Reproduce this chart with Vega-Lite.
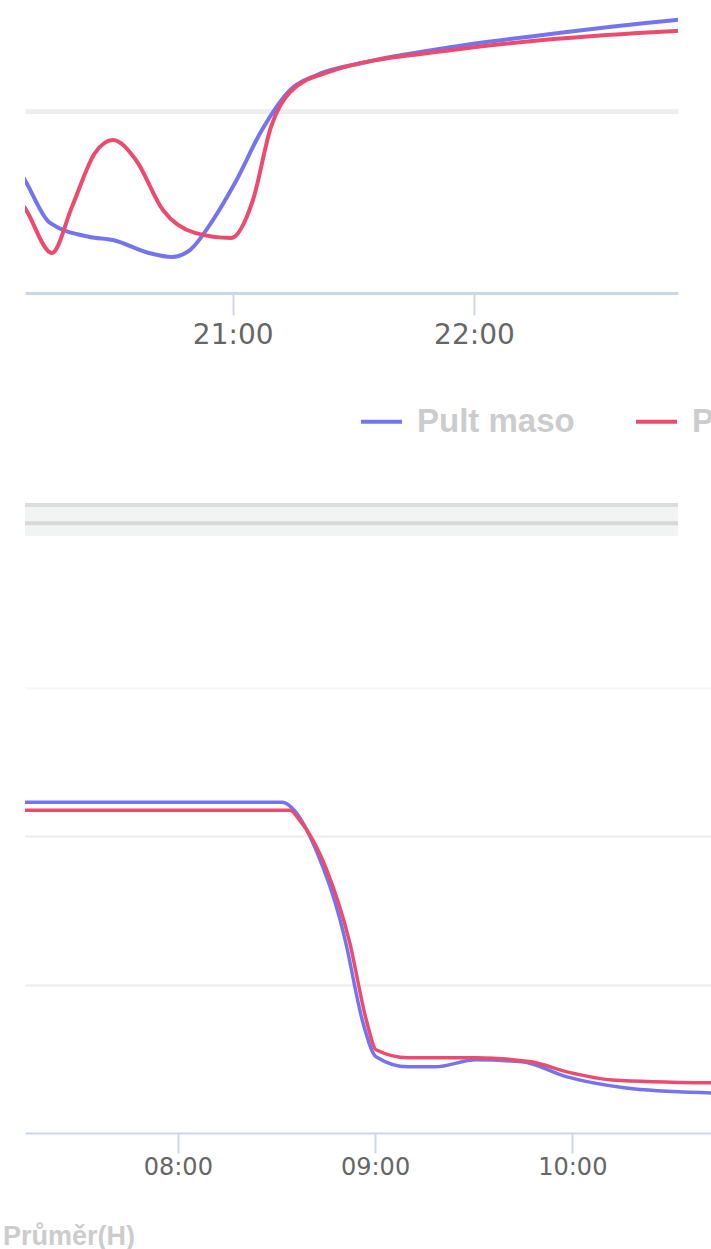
{
  "$schema": "https://vega.github.io/schema/vega-lite/v6.json",
  "padding": {"left": 3, "top": 0, "right": 0, "bottom": 0},
  "background": "white",
  "config": {"view": {"stroke": null}},
  "datasets": {
    "top": [
      {"time": "2019-03-18T20:00:00", "series": "Pult maso", "value": 9.2},
      {"time": "2019-03-18T20:08:20", "series": "Pult maso", "value": 6.21},
      {"time": "2019-03-18T20:14:34", "series": "Pult maso", "value": 3.85},
      {"time": "2019-03-18T20:24:30", "series": "Pult maso", "value": 3.08},
      {"time": "2019-03-18T20:30:14", "series": "Pult maso", "value": 2.91},
      {"time": "2019-03-18T20:39:11", "series": "Pult maso", "value": 2.2},
      {"time": "2019-03-18T20:44:54", "series": "Pult maso", "value": 1.98},
      {"time": "2019-03-18T20:49:22", "series": "Pult maso", "value": 2.36},
      {"time": "2019-03-18T20:55:06", "series": "Pult maso", "value": 4.01},
      {"time": "2019-03-18T21:00:34", "series": "Pult maso", "value": 6.04},
      {"time": "2019-03-18T21:07:17", "series": "Pult maso", "value": 8.96},
      {"time": "2019-03-18T21:14:15", "series": "Pult maso", "value": 11.15},
      {"time": "2019-03-18T21:20:58", "series": "Pult maso", "value": 11.98},
      {"time": "2019-03-18T21:32:09", "series": "Pult maso", "value": 12.64},
      {"time": "2019-03-18T21:54:32", "series": "Pult maso", "value": 13.52},
      {"time": "2019-03-18T22:17:10", "series": "Pult maso", "value": 14.18},
      {"time": "2019-03-18T22:50:15", "series": "Pult maso", "value": 15.0},
      {"time": "2019-03-18T23:00:00", "series": "Pult maso", "value": 15.2},
      {"time": "2019-03-18T20:00:00", "series": "Průměr(H)", "value": 6.6},
      {"time": "2019-03-18T20:08:20", "series": "Průměr(H)", "value": 4.67},
      {"time": "2019-03-18T20:15:04", "series": "Průměr(H)", "value": 2.2},
      {"time": "2019-03-18T20:20:02", "series": "Průměr(H)", "value": 4.73},
      {"time": "2019-03-18T20:25:45", "series": "Průměr(H)", "value": 7.69},
      {"time": "2019-03-18T20:30:14", "series": "Průměr(H)", "value": 8.41},
      {"time": "2019-03-18T20:35:57", "series": "Průměr(H)", "value": 7.31},
      {"time": "2019-03-18T20:42:40", "series": "Průměr(H)", "value": 4.56},
      {"time": "2019-03-18T20:50:37", "series": "Průměr(H)", "value": 3.3},
      {"time": "2019-03-18T20:59:35", "series": "Průměr(H)", "value": 3.02},
      {"time": "2019-03-18T21:05:03", "series": "Průměr(H)", "value": 5.11},
      {"time": "2019-03-18T21:09:31", "series": "Průměr(H)", "value": 9.12},
      {"time": "2019-03-18T21:14:15", "series": "Průměr(H)", "value": 11.04},
      {"time": "2019-03-18T21:23:12", "series": "Průměr(H)", "value": 12.09},
      {"time": "2019-03-18T21:54:32", "series": "Průměr(H)", "value": 13.35},
      {"time": "2019-03-18T22:17:10", "series": "Průměr(H)", "value": 13.9},
      {"time": "2019-03-18T22:50:15", "series": "Průměr(H)", "value": 14.4},
      {"time": "2019-03-18T23:00:00", "series": "Průměr(H)", "value": 14.5}
    ],
    "bottom": [
      {"time": "2019-03-19T07:00:00", "series": "Pult maso", "value": 22.35},
      {"time": "2019-03-19T07:15:00", "series": "Pult maso", "value": 22.3},
      {"time": "2019-03-19T08:31:42", "series": "Pult maso", "value": 22.3},
      {"time": "2019-03-19T08:35:39", "series": "Pult maso", "value": 21.7},
      {"time": "2019-03-19T08:42:20", "series": "Pult maso", "value": 18.92},
      {"time": "2019-03-19T08:49:20", "series": "Pult maso", "value": 14.39},
      {"time": "2019-03-19T08:50:52", "series": "Pult maso", "value": 13.04},
      {"time": "2019-03-19T08:56:20", "series": "Pult maso", "value": 7.43},
      {"time": "2019-03-19T09:00:17", "series": "Pult maso", "value": 5.14},
      {"time": "2019-03-19T09:10:00", "series": "Pult maso", "value": 4.46},
      {"time": "2019-03-19T09:18:12", "series": "Pult maso", "value": 4.46},
      {"time": "2019-03-19T09:30:42", "series": "Pult maso", "value": 4.93},
      {"time": "2019-03-19T09:44:42", "series": "Pult maso", "value": 4.8},
      {"time": "2019-03-19T09:58:23", "series": "Pult maso", "value": 3.78},
      {"time": "2019-03-19T10:16:20", "series": "Pult maso", "value": 3.04},
      {"time": "2019-03-19T10:42:11", "series": "Pult maso", "value": 2.7},
      {"time": "2019-03-19T10:50:00", "series": "Pult maso", "value": 2.65},
      {"time": "2019-03-19T07:00:00", "series": "Průměr(H)", "value": 21.76},
      {"time": "2019-03-19T08:34:06", "series": "Průměr(H)", "value": 21.76},
      {"time": "2019-03-19T08:36:52", "series": "Průměr(H)", "value": 21.15},
      {"time": "2019-03-19T08:45:14", "series": "Průměr(H)", "value": 17.77},
      {"time": "2019-03-19T08:52:04", "series": "Průměr(H)", "value": 13.04},
      {"time": "2019-03-19T08:57:33", "series": "Průměr(H)", "value": 7.43},
      {"time": "2019-03-19T09:00:17", "series": "Průměr(H)", "value": 5.61},
      {"time": "2019-03-19T09:10:00", "series": "Průměr(H)", "value": 5.07},
      {"time": "2019-03-19T09:30:42", "series": "Průměr(H)", "value": 5.07},
      {"time": "2019-03-19T09:47:26", "series": "Průměr(H)", "value": 4.8},
      {"time": "2019-03-19T09:58:23", "series": "Průměr(H)", "value": 4.12},
      {"time": "2019-03-19T10:12:05", "series": "Průměr(H)", "value": 3.58},
      {"time": "2019-03-19T10:42:11", "series": "Průměr(H)", "value": 3.38},
      {"time": "2019-03-19T10:50:00", "series": "Průměr(H)", "value": 3.36}
    ]
  },
  "spacing": 152,
  "resolve": {
    "scale": {"x": "independent", "y": "independent", "color": "independent"},
    "axis": {"x": "independent", "y": "independent"},
    "legend": {"color": "independent"}
  },
  "vconcat": [
    {
      "spacing": 63,
      "resolve": {
        "scale": {"x": "independent", "y": "independent", "color": "independent"},
        "axis": {"x": "independent", "y": "independent"},
        "legend": {"color": "independent"}
      },
      "vconcat": [
        {
          "width": 653,
          "height": 293,
          "data": {"name": "top"},
          "mark": {"type": "line", "interpolate": "monotone", "strokeWidth": 4, "clip": true},
          "encoding": {
            "x": {
              "field": "time", "type": "temporal",
              "scale": {"domain": [
                {"year": 2019, "month": 3, "date": 18, "hours": 20, "minutes": 8, "seconds": 22},
                {"year": 2019, "month": 3, "date": 18, "hours": 22, "minutes": 50, "seconds": 44}
              ]},
              "axis": {
                "title": null, "format": "%H:%M", "grid": false,
                "values": [
                  {"year": 2019, "month": 3, "date": 18, "hours": 21, "minutes": 0},
                  {"year": 2019, "month": 3, "date": 18, "hours": 22, "minutes": 0}
                ],
                "domainColor": "#ccd6eb", "domainWidth": 3,
                "tickColor": "#ccd6eb", "tickWidth": 2, "tickSize": 22,
                "labelFont": "DejaVu Sans", "labelFontSize": 28, "labelColor": "#666666", "labelPadding": 6
              }
            },
            "y": {
              "field": "value", "type": "quantitative",
              "scale": {"domain": [0, 16.1], "nice": false, "zero": false},
              "axis": {
                "title": null, "labels": false, "ticks": false, "domain": false,
                "grid": true, "values": [10], "gridColor": "#eeeeee", "gridWidth": 5,
                "minExtent": 22, "maxExtent": 22
              }
            },
            "color": {
              "field": "series", "type": "nominal",
              "scale": {"domain": ["Pult maso", "Průměr(H)"], "range": ["#7474ee", "#ec4b6d"]},
              "legend": {
                "orient": "none", "legendX": 334, "legendY": 399, "direction": "horizontal",
                "title": null, "padding": 0,
                "symbolType": "stroke", "symbolSize": 1681, "symbolStrokeWidth": 4,
                "labelFont": "Liberation Sans", "labelFontSize": 33, "labelFontWeight": "bold",
                "labelColor": "#cccccc", "labelOffset": 13, "columnPadding": 53, "labelLimit": 0,
                "encode": {"symbols": {"update": {"stroke": {"value": "#cccccc"}}}}
              }
            }
          }
        },
        {
          "width": 653,
          "height": 33,
          "view": {"fill": "#f2f3f3", "stroke": null},
          "data": {"values": [{}]},
          "layer": [
            {
              "mark": {"type": "rule", "color": "#dcdcdc", "strokeWidth": 4},
              "encoding": {
                "y": {
                  "datum": 0.94, "type": "quantitative",
                  "scale": {"domain": [0, 1], "nice": false},
                  "axis": {"title": null, "labels": false, "ticks": false, "domain": false, "grid": false, "minExtent": 22, "maxExtent": 22}
                }
              }
            },
            {
              "mark": {"type": "rule", "color": "#d8d8d8", "strokeWidth": 4},
              "encoding": {"y": {"datum": 0.39, "type": "quantitative"}}
            }
          ]
        }
      ]
    },
    {
      "width": 686,
      "height": 445,
      "data": {"name": "bottom"},
      "mark": {"type": "line", "interpolate": "monotone", "strokeWidth": 3.5, "clip": true},
      "encoding": {
        "x": {
          "field": "time", "type": "temporal",
          "scale": {"domain": [
            {"year": 2019, "month": 3, "date": 19, "hours": 7, "minutes": 13, "seconds": 31},
            {"year": 2019, "month": 3, "date": 19, "hours": 10, "minutes": 42, "seconds": 11}
          ]},
          "axis": {
            "title": null, "format": "%H:%M", "grid": false,
            "values": [
              {"year": 2019, "month": 3, "date": 19, "hours": 8, "minutes": 0},
              {"year": 2019, "month": 3, "date": 19, "hours": 9, "minutes": 0},
              {"year": 2019, "month": 3, "date": 19, "hours": 10, "minutes": 0}
            ],
            "domainColor": "#ccd6eb", "domainWidth": 2,
            "tickColor": "#ccd6eb", "tickWidth": 2, "tickSize": 20,
            "labelFont": "DejaVu Sans", "labelFontSize": 24, "labelColor": "#666666", "labelPadding": 2
          }
        },
        "y": {
          "field": "value", "type": "quantitative",
          "scale": {"domain": [0, 30], "nice": false, "zero": false},
          "axis": {
            "title": null, "labels": false, "ticks": false, "domain": false,
            "grid": true, "values": [10, 20, 30],
            "gridColor": {"condition": {"test": "datum.value === 30", "value": "#f6f6f6"}, "value": "#ececec"},
            "gridWidth": 2,
            "minExtent": 22, "maxExtent": 22
          }
        },
        "color": {
          "field": "series", "type": "nominal",
          "scale": {"domain": ["Pult maso", "Průměr(H)"], "range": ["#7474ee", "#ec4b6d"]},
          "legend": {
            "orient": "none", "legendX": -22, "legendY": 535, "direction": "horizontal",
            "title": null, "padding": 0, "values": ["Průměr(H)"],
            "symbolType": "stroke", "symbolSize": 0, "symbolStrokeWidth": 0,
            "labelFont": "Liberation Sans", "labelFontSize": 27, "labelFontWeight": "bold",
            "labelColor": "#cccccc", "labelOffset": -27, "labelLimit": 0
          }
        }
      }
    }
  ]
}
